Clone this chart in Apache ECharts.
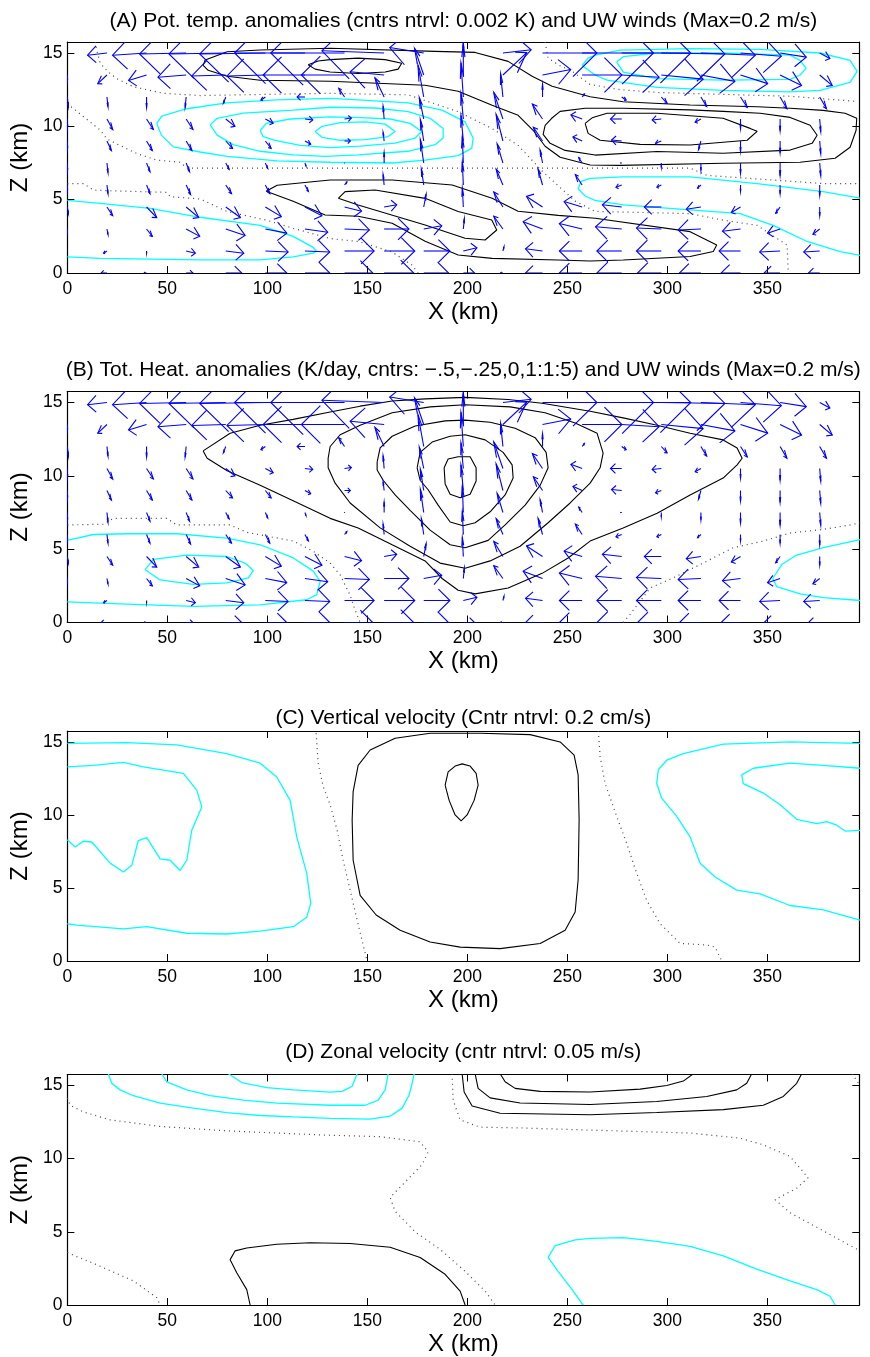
<!DOCTYPE html>
<html>
<head>
<meta charset="utf-8">
<script src="https://cdn.jsdelivr.net/npm/echarts@6/dist/echarts.min.js"></script>
<style>
html, body { margin: 0; padding: 0; background: #fff; }
#main { width: 870px; height: 1357px; }
</style>
</head>
<body>
<div id="main"></div>
<script>
// ---- wind field (same UW winds in panels A and B) ----
var windX = [0, 19.8, 39.6, 59.4, 79.2, 99, 118.8, 138.6, 158.4, 178.2, 198, 217.8, 237.6, 257.4, 277.2, 297, 316.8, 336.6, 356.4, 376.2]; // km
var windZ = [0, 1.5, 3, 4.5, 6, 7.5, 9, 10.5, 12, 13.5, 15]; // km
// u in cm/s, one row per level
var windU = [
    [0, -1.7, -0.7, 2, 4.7, 6.3, 7.3, 8.3, 8.7, 7.3, 3.3, -0.7, -5, -6.7, -7.3, -7, -6.3, -5.7, -4.7, -3.3],
    [0, -1, 0, 2.7, 5.3, 6.7, 7.3, 8.7, 9, 7.7, 4, 0.3, -5, -6.7, -7.3, -7.3, -6.7, -6.3, -6, -4.7],
    [0, 0.3, 1.7, 4, 5.7, 6.3, 6.7, 7.3, 7.3, 5.3, 0.3, -2.7, -5.7, -6.7, -7.7, -7.3, -6.7, -5.3, -3.7, -2],
    [0.3, 1.7, 3, 3.7, 4.3, 4.7, 5, 5, 3.7, 0.7, -0.3, -2.7, -4.7, -5.3, -5.7, -5, -4.3, -2.7, -1.3, 0],
    [0, 0.3, 1, 1.3, 1.7, 1.3, 1, 0.7, -0.3, -0.7, -0.3, -2, -1.3, -2, -1.7, -1.3, -1, 0, 0, 0],
    [0, 0.3, 1, 1, 1, 0.7, 0.3, 0, 0, -1, -0.3, -1.7, -0.7, -1, -0.3, 0, 0, 0, 0, 0.3],
    [0, 1.3, 1.7, 1.7, 2, 1.7, 1.7, 1.7, -0.3, -1, -0.7, -2, -2.7, -2.7, -3, -1.7, -0.7, 0, 0, 0.3],
    [0, 1.7, 2, 2, 2.7, 2.3, 2.3, 2, -0.3, -1.3, -0.7, -2.7, -3, -3.3, -3.3, -2.7, -1.7, 0, 0, 0.3],
    [0.3, 0.3, 0, -0.3, -0.7, -1.3, -2.3, -1.7, -2.7, -1.7, -0.7, -0.7, 0, 0.7, 1.3, 1.7, 1.7, 2, 2, 2],
    [0, -2.7, -5.3, -8.3, -10, -11.3, -12.3, -12.7, -10, -2.7, 0, 7, 8.3, 11.7, 11, 12.3, 10, 8, 6.3, 3.7],
    [-1.7, -5.7, -10, -13.7, -16.7, -19.3, -20.7, -21.7, -18.3, -10, 0, 8.3, 16, 21, 20.3, 18.7, 16, 12, 7.7, 3]
];
// w in mm/s
var windW = [
    [0, 0, 0, 0, 0, 0, 0, 0, 0, 0, 0, 0, 0, 0, 0, 0, 0, 0, 0, 0],
    [0, -0.7, -0.7, -0.7, -0.7, -0.3, -0.3, 0, 0, 0, 1, 1.3, 0.7, 0, 0, 0, 0, 0, -0.3, -0.3],
    [-1, -1.7, -2.3, -2.3, -2, -1.3, -1, -0.3, 0, 1, 3.3, 4, 2.3, 1.7, 0.7, 0.3, -0.3, -0.7, -1.3, -1.7],
    [-2, -2.7, -3.3, -3.3, -3.3, -3, -2.7, -1.3, 0.7, 4, 6, 4.7, 3.3, 1.7, 0.7, 0, -0.7, -1.7, -2, -2.7],
    [-2, -2.7, -2.7, -3, -2.7, -2.7, -2, 1, 3.3, 5, 7.3, 5, 5, 3.3, -0.7, -0.7, -1, -2, -2.7, -3.3],
    [-2.7, -3, -2.7, -2.7, -2, -1.7, -1, 0, 3.3, 7.3, 8.3, 6, 4, 1.7, 0, -1.3, -2.3, -3.3, -4, -4],
    [-2.7, -3, -3, -3, -2.3, -2.3, -1, 0, 2.7, 6.7, 8, 8.3, 4.3, 1.3, 0.3, -0.7, -2.7, -3.3, -3.7, -4],
    [-3, -3.3, -3.3, -3.3, -2.3, -1.3, -0.3, 0.3, 4, 6.7, 8, 8.3, 4.7, 1.3, 0, -0.3, -1, -3, -3.7, -4],
    [-3, -3, -3.3, -3.3, -2, -1, 0, 2.7, 6, 10, 10.7, 7.3, 4, 1, -1, -2, -3, -3.3, -3.7, -3.7],
    [-2, -2.7, -1.7, -0.7, -0.3, -0.3, 0, 0, 1, 8.3, 10, 7, 1.7, 0, -0.7, -1.3, -2, -2.7, -3.3, -3.3],
    [-0.7, -0.7, -0.7, -0.3, -0.3, -0.3, 0, 0, 0.7, 1.7, 2.7, 1, 0, 0, 0, -0.3, -0.7, -1, -1.3, -1.7]
];

// ---- (A) potential temperature anomaly contours [x km, z km] ----
var aCyanL1 = [[44.7,10.2],[47.2,10.7],[59.7,11.2],[79.7,11.6],[104.7,11.8],[131.4,11.9],[145.4,11.8],[170.4,11.6],[187.4,11.1],[198.9,10.3],[202.9,9.2],[202.2,8.5],[195.4,8.0],[178.9,7.7],[162.4,7.5],[131.4,7.55],[104.9,7.65],[79.9,7.95],[66.4,8.25],[53,8.6],[47,9.4],[44.7,10.2]];
var aCyanL2 = [[71.4,10.1],[74.9,10.55],[87.9,10.9],[112.9,11.1],[131.4,11.3],[153.9,11.25],[170.4,11.0],[181.4,10.55],[187.9,9.85],[187.9,9.2],[183.9,8.75],[170.4,8.3],[145.4,8.05],[128.9,7.95],[112.9,8.05],[96.4,8.3],[82.9,8.75],[74.9,9.4],[71.4,10.1]];
var aCyanL3 = [[96.4,9.7],[99.4,10.2],[111.4,10.5],[131.4,10.65],[146.4,10.6],[161.4,10.5],[171.4,10.2],[177.2,9.65],[173.9,9.2],[163.9,8.85],[146.4,8.65],[131.4,8.55],[116.4,8.7],[103.9,9.05],[97.9,9.3],[96.4,9.7]];
var aCyanL4 = [[123.9,9.65],[127.4,10.0],[136.4,10.25],[148.9,10.3],[158.9,10.15],[163.9,9.65],[160.4,9.3],[148.9,9.1],[136.4,9.05],[127.4,9.25],[123.9,9.65]];
var aCyanTR1 = [[257.4,14.15],[260.4,14.65],[263.9,14.85],[276.4,15.2],[311.4,15.3],[346.4,15.25],[376.4,15.0],[391.4,14.5],[394.9,13.75],[391.4,13.0],[376.4,12.45],[361.4,12.35],[327.9,12.45],[294.9,12.65],[269.9,13.15],[263.9,13.5],[257.4,14.15]];
var aCyanTR2 = [[274.7,14.4],[278,14.75],[294.7,15.0],[328,15.0],[361.4,14.85],[366.4,14.5],[369.4,13.95],[366.4,13.5],[361.4,13.2],[328,13.15],[294.7,13.25],[278,13.7],[274.7,14.4]];
var aCyanBR = [[396.4,5.1],[377.9,5.55],[344.9,6.1],[311.4,6.55],[277.9,6.55],[261.4,6.45],[256.9,6.25],[255.4,5.75],[258.9,5.25],[263.9,4.95],[277.9,4.65],[311.4,4.3],[336.4,4.05],[352.9,3.25],[369.9,2.15],[386.4,1.45],[396.4,1.2]];
var aCyanBL = [[0,4.95],[16.4,4.75],[41.4,4.4],[66.4,3.8],[96.4,3.25],[112.9,2.5],[122.9,1.75],[124.4,1.5],[122.9,1.35],[112.9,1.1],[96.4,0.9],[66.4,0.9],[16.4,1.0],[0,1.1]];
var aBlackU1 = [[67.9,14.16],[70.4,13.82],[79.9,13.41],[96.4,13.14],[131.4,13.07],[178.9,12.8],[195.4,12.39],[212.4,11.43],[225.4,10.75],[232.9,9.73],[238.9,8.64],[246.4,7.89],[261.4,7.36],[276.4,7.34],[327.9,7.48],[366.4,7.55],[383.9,7.82],[391.4,8.57],[394.4,9.73],[394.7,10.55],[388.9,10.89],[377.9,11.09],[361.4,11.23],[344.9,11.34],[311.4,11.45],[277.9,11.68],[261.4,12.02],[242.4,12.73],[232.4,13.41],[220.4,14.43],[203.9,15.04],[183.9,15.11],[131.4,15.32],[96.4,15.2],[79.9,15.09],[68.9,14.52],[67.9,14.16]];
var aBlackU2 = [[120.4,14.2],[125.4,14.45],[131.4,14.55],[145.4,14.65],[158.9,14.55],[167.2,14.3],[165.4,13.9],[158.9,13.7],[145.4,13.6],[131.4,13.7],[123.9,13.9],[120.4,14.2]];
var aBlackR1 = [[238.9,10.07],[242.2,10.55],[246.4,11.02],[258.9,11.23],[277.9,11.23],[311.4,11.12],[327.9,11.02],[346.4,10.89],[361.4,10.61],[371.4,10.07],[374.9,9.39],[372.4,8.84],[361.4,8.38],[327.9,8.16],[294.9,8.28],[263.9,8.04],[248.9,8.36],[241.4,8.84],[237.9,9.45],[238.9,10.07]];
var aBlackR2 = [[258.9,10.2],[262.4,10.58],[269.9,10.89],[294.9,10.89],[327.9,10.55],[341.4,9.86],[344.9,9.66],[339.9,9.05],[311.4,8.73],[286.4,8.77],[266.4,9.05],[260.4,9.52],[258.9,10.2]];
var aBlackLow1 = [[99.4,5.57],[104.9,5.98],[131.4,6.34],[162.4,6.34],[192.4,6.0],[212.4,5.09],[225.4,4.21],[245.4,3.93],[263.9,3.73],[311.4,2.82],[324.7,1.91],[323,1.46],[311.4,1.12],[278,0.89],[261.4,0.82],[245.4,0.89],[212.4,1.0],[195.4,1.23],[178.9,2.16],[162.4,3.39],[145.4,3.87],[128.9,3.95],[112.9,4.89],[99.4,5.57]];
var aBlackLow2 = [[135.5,5.09],[138.9,5.55],[153.9,5.66],[178.9,5.09],[195.4,4.19],[212.2,3.61],[214.7,2.93],[208.9,2.25],[198.9,2.37],[178.9,3.27],[145.4,4.64],[135.5,5.09]];
var aDot1 = [[13.9,15.75],[14.7,15.2],[16.4,14.3],[20.5,13.7],[24.7,13.25],[33,12.7],[48,12.25],[66.4,12.1],[130,12.25],[170.4,12.15],[195.4,11.0],[212.4,9.85],[225.4,8.7],[237.4,6.95],[253.9,4.9],[263.9,4.2],[311.4,4.05],[327.9,3.6],[344.9,3.25],[359.9,1.9],[360.5,0]];
var aDot2 = [[0,11.55],[2.2,11.3],[16.4,9.75],[19.7,9.15],[24.7,8.8],[34.7,8.15],[44.7,7.7],[56.4,7.55],[59.9,7.15],[131.4,7.15],[178.9,7.15],[238.9,7.15],[261.4,7.15],[311.4,7.15],[319.9,6.65],[377.9,6.1],[396.4,6.1]];
var aDot3 = [[0,6.1],[8,6.1],[13,5.65],[23,5.6],[49.7,5.5],[51.4,5.2],[66.4,5.05],[79.7,4.2],[99.7,3.6],[113,3.05],[131.4,2.35],[145.4,2.15],[162.2,1.45],[172.2,0.55],[175.4,0]];
var aDot4 = [[238.9,15.75],[240.4,14.65],[245.4,14.2],[252.4,13.75],[261.4,12.85],[276.4,12.5],[296.4,12.3],[361.4,12.05],[394.9,11.7]];

// ---- (B) total heating anomaly contours ----
var bBlack1 = [[67.9,11.7],[81.4,12.9],[96.4,13.45],[112.9,13.85],[131.4,14.35],[146.4,14.75],[162.4,15.1],[178.9,15.25],[198.9,15.35],[220.4,15.2],[237.4,14.95],[261.4,14.4],[277.9,13.95],[294.9,13.45],[311.4,12.9],[327.9,12.45],[334.9,11.9],[337.4,11.2],[334.9,10.75],[327.9,9.85],[311.4,8.7],[294.9,7.45],[277.9,6.45],[261.4,5.55],[250.4,4.4],[237.4,3.35],[220.4,2.35],[203.9,1.95],[195.4,2.2],[187.4,3.0],[178.9,4.2],[162.4,5.3],[145.4,6.45],[131.4,7.1],[112.9,8.3],[96.4,9.35],[79.9,10.35],[69.9,11.2],[67.9,11.7]];
var bBlack2 = [[130.4,11.2],[131.4,12.0],[136.4,12.8],[146.4,13.45],[162.4,14.3],[181.4,14.7],[198.9,14.85],[221.4,14.7],[238.9,14.3],[253.9,13.6],[264.9,12.9],[267.9,11.55],[266.4,10.55],[261.4,9.5],[251.4,8.15],[240.4,6.8],[226.4,5.2],[211.4,4.2],[198.9,3.7],[186.4,4.05],[171.4,5.2],[156.4,6.45],[141.4,8.15],[133.9,9.5],[130.4,10.55],[130.4,11.2]];
var bBlack3 = [[154.9,10.95],[156.4,11.9],[162.4,12.7],[173.9,13.4],[188.9,13.75],[198.9,13.8],[211.4,13.65],[223.9,13.25],[233.9,12.6],[239.4,11.6],[240.4,10.55],[236.4,9.35],[228.9,8.0],[218.9,6.65],[210.4,5.6],[198.9,5.1],[191.4,5.3],[181.4,6.3],[171.4,7.65],[163.9,8.7],[157.9,9.7],[154.9,10.4],[154.9,10.95]];
var bBlack4 = [[174.9,10.55],[176.4,11.6],[182.4,12.3],[191.4,12.7],[198.9,12.8],[208.9,12.45],[217.9,11.6],[222.4,10.75],[222.9,9.85],[218.9,8.7],[211.4,7.55],[203.9,6.8],[197.9,6.6],[191.4,6.85],[185.4,8.0],[180.4,9.05],[176.4,9.7],[174.9,10.55]];
var bBlack5 = [[188.4,10.55],[190.4,11.15],[195.4,11.3],[201.4,11.3],[204.4,10.55],[204.4,9.65],[201.4,8.75],[196.4,8.5],[191.4,8.75],[188.9,9.45],[188.4,10.55]];
var bCyan1 = [[0,5.6],[13,6.0],[29.7,6.05],[54.7,6.05],[79.7,5.75],[96.4,5.3],[113,4.4],[123,3.5],[126.4,2.8],[124.7,1.9],[119.7,1.55],[96.4,1.2],[63,1.1],[29.7,1.25],[0,1.4]];
var bCyan2 = [[38.9,3.6],[43,4.3],[59.7,4.6],[79.7,4.5],[88.9,4.05],[93,3.55],[90.5,3.05],[79.7,2.7],[63,2.6],[46.4,2.9],[38.9,3.6]];
var bCyan3 = [[396.4,5.65],[378,5.1],[364.7,4.6],[357.2,3.95],[352.7,3.0],[354.7,2.45],[366.4,1.95],[378,1.7],[396.4,1.5]];
var bDot1 = [[0,6.65],[18,6.7],[23,7.1],[49.7,7.1],[54.7,6.65],[81.4,6.65],[89.7,6.15],[113,5.55],[123,4.85],[131.4,4.05],[136.4,3.25],[141.4,1.85],[143.9,0.85],[146.4,0]];
var bDot2 = [[277.9,0],[281.4,0.55],[291.4,2.35],[303,3.05],[316.4,3.95],[333,5.1],[348,5.55],[361.4,6.1],[378,6.35],[391.4,6.65],[396.4,6.8]];

// ---- (C) vertical velocity contours ----
var cCyan1 = [[0,14.9],[29.7,14.95],[54.7,14.8],[79.7,14.2],[96.4,13.55],[104.7,12.6],[111.4,11.0],[114.7,8.5],[119.7,6.0],[121.7,3.95],[119.7,3.0],[113,2.35],[96.4,2.05],[79.7,1.85],[59.7,1.9],[39.7,2.35],[28,2.2],[4.7,2.45],[0,2.55]];
var cCyan2 = [[0,13.3],[13,13.4],[28,13.6],[38,13.3],[58,12.85],[64.7,11.7],[67.2,10.55],[62.2,8.95],[59.7,6.9],[56.4,6.2],[51.4,6.9],[46.4,7.0],[39.7,8.45],[35.5,8.25],[32.2,6.55],[28,6.1],[21.4,6.7],[12.2,8.15],[8,8.2],[3.9,7.8],[0,8.3]];
var cCyan3 = [[396.4,14.9],[361.4,15.0],[328,14.85],[308,14.2],[299.7,13.75],[295.5,13.1],[294.7,12.15],[297.2,11.15],[304.7,9.9],[311.4,8.5],[316.4,6.7],[323.9,5.75],[334.7,4.85],[346.4,4.6],[361.4,3.8],[378,3.5],[396.4,2.8]];
var cCyan4 = [[396.4,13.2],[378,13.4],[361.4,13.55],[343,13.2],[337.2,12.75],[338,12.15],[348,11.5],[356.4,10.7],[364.7,9.7],[374.7,9.4],[379.7,9.55],[384.7,9.3],[388.9,8.9],[396.4,8.95]];
var cBlack1 = [[142.9,11.6],[145.4,13.4],[151.4,14.45],[163.9,15.25],[181.4,15.6],[206.4,15.6],[231.4,15.5],[246.4,15.0],[253.4,14.1],[255.4,12.75],[255.9,9.65],[255.4,5.55],[253.9,3.35],[248.9,2.1],[236.4,1.2],[216.4,0.85],[196.4,0.95],[181.4,1.3],[166.4,2.1],[154.4,3.15],[146.4,4.5],[142.9,6.9],[142.4,9.65],[142.9,11.6]];
var cBlack2 = [[188.9,12.05],[190.4,12.95],[193.9,13.35],[197.4,13.5],[201.4,13.35],[204.4,12.85],[205.4,12.05],[203.4,11.0],[199.9,10.0],[196.9,9.6],[193.9,10.0],[190.9,11.0],[188.9,12.05]];
var cDot1 = [[124.4,15.6],[125.4,13.55],[127.9,11.95],[131.4,10.7],[134.9,8.95],[137.9,6.9],[141.4,4.85],[144.9,2.8],[147.9,1.1],[149.9,0]];
var cDot2 = [[265.5,15.75],[266.4,14.0],[268.9,12.15],[274.7,9.9],[279.7,8.05],[284.7,6.0],[289.7,4.15],[296.4,2.55],[306.4,1.2],[319.7,1.1],[323.9,0.95],[327.2,0]];

// ---- (D) zonal velocity contours ----
var dCyan1 = [[20.5,15.8],[22.2,15.15],[26.4,14.7],[33,14.3],[46.4,13.8],[63,13.45],[79.7,13.15],[96.4,12.95],[113,12.85],[131.4,12.75],[151.4,12.7],[161.4,12.9],[167.4,13.45],[170.9,14.35],[172.4,15.15],[173.4,15.8]];
var dCyan2 = [[47.2,15.8],[49.7,15.25],[59.7,14.7],[71.4,14.3],[88,14.0],[104.7,13.8],[131.4,13.65],[148.9,13.65],[155.4,14.0],[158.9,14.7],[160.4,15.8]];
var dCyan3 = [[80.5,15.8],[87.2,15.2],[99.7,14.85],[113,14.7],[131.4,14.55],[137.4,14.6],[142.4,14.95],[144.9,15.8]];
var dCyan4 = [[257.9,0],[252.4,1.05],[245.4,2.3],[240.4,3.25],[243.9,4.05],[253.9,4.45],[261.4,4.55],[278,4.6],[294.7,4.35],[311.4,4.0],[328,3.35],[344.7,2.45],[361.4,1.65],[374.7,1.05],[381.4,0.6],[383.9,0]];
var dBlack1 = [[216.4,15.8],[218.9,15.25],[223.9,14.8],[236.4,14.6],[261.4,14.55],[286.4,14.75],[299.7,15.0],[308,15.3],[313,15.8]];
var dBlack2 = [[203.9,15.8],[205.4,14.8],[211.4,14.15],[226.4,13.8],[261.4,13.7],[294.7,13.9],[319.7,14.25],[334.7,14.7],[339.7,15.15],[342.2,15.8]];
var dBlack3 = [[197.4,15.8],[198.4,14.55],[202.4,13.6],[216.4,13.1],[261.4,13.0],[294.7,13.15],[328,13.35],[348,13.65],[358,14.25],[364.7,15.15],[367.2,15.8]];
var dBlack4 = [[91.4,0],[89.7,1.05],[84.7,2.2],[81.4,3.1],[83.9,3.7],[89.7,3.9],[104.7,4.15],[121.4,4.25],[141.4,4.2],[161.4,3.95],[176.4,3.25],[188.9,2.1],[196.4,0.95],[198.9,0]];
var dDot1 = [[0,14.15],[1.4,13.65],[7.9,13.2],[21.4,12.65],[46.4,12.2],[79.7,11.9],[113,11.7],[131.4,11.6],[156.4,11.5],[176.4,11.15],[180.4,10.45],[177.4,9.6],[168.9,8.4],[161.4,7.35],[163.9,6.4],[173.9,5.0],[186.4,3.8],[198.9,2.3],[208.9,0.95],[213.9,0]];
var dDot2 = [[192.4,15.8],[192.9,14.0],[196.4,12.65],[206.4,12.15],[226.4,12.1],[261.4,11.95],[311.4,11.75],[336.4,11.4],[347.9,10.95],[361.4,10.15],[370.4,8.7],[364.9,8.0],[353.9,7.2],[361.4,6.3],[374.9,5.3],[392.9,3.95],[396.4,3.7]];
var dDot3 = [[0,3.6],[3.9,3.35],[13,2.85],[23,2.25],[33,1.65],[44.7,0.5],[46.4,0]];
var dDot4 = [[392.4,15.8],[395.9,15.1]];

var titles = [
    '(A) Pot. temp. anomalies (cntrs ntrvl: 0.002 K) and UW winds (Max=0.2 m/s)',
    '(B) Tot. Heat. anomalies (K/day, cntrs: \u2212.5,\u2212.25,0,1:1:5) and UW winds (Max=0.2 m/s)',
    '(C) Vertical velocity (Cntr ntrvl: 0.2 cm/s)',
    '(D) Zonal velocity (cntr ntrvl: 0.05 m/s)'
];

var panels = [
    { top: 42, height: 231, titleY: 21, winds: true,
      lines: [[aCyanL1,'cyan'],[aCyanL2,'cyan'],[aCyanL3,'cyan'],[aCyanL4,'cyan'],[aCyanTR1,'cyan'],[aCyanTR2,'cyan'],[aCyanBR,'cyan'],[aCyanBL,'cyan'],
              [aBlackU1,'black'],[aBlackU2,'black'],[aBlackR1,'black'],[aBlackR2,'black'],[aBlackLow1,'black'],[aBlackLow2,'black'],
              [aDot1,'dot'],[aDot2,'dot'],[aDot3,'dot'],[aDot4,'dot']] },
    { top: 391.5, height: 231, titleY: 370.5, winds: true,
      lines: [[bCyan1,'cyan'],[bCyan2,'cyan'],[bCyan3,'cyan'],
              [bBlack1,'black'],[bBlack2,'black'],[bBlack3,'black'],[bBlack4,'black'],[bBlack5,'black'],
              [bDot1,'dot'],[bDot2,'dot']] },
    { top: 731, height: 230, titleY: 718.5, winds: false,
      lines: [[cCyan1,'cyan'],[cCyan2,'cyan'],[cCyan3,'cyan'],[cCyan4,'cyan'],
              [cBlack1,'black'],[cBlack2,'black'],[cDot1,'dot'],[cDot2,'dot']] },
    { top: 1074.5, height: 231, titleY: 1052.5, winds: false,
      lines: [[dCyan1,'cyan'],[dCyan2,'cyan'],[dCyan3,'cyan'],[dCyan4,'cyan'],
              [dBlack1,'black'],[dBlack2,'black'],[dBlack3,'black'],[dBlack4,'black'],
              [dDot1,'dot'],[dDot2,'dot'],[dDot3,'dot'],[dDot4,'dot']] }
];

var FONT = '"Liberation Sans", Arial, Helvetica, sans-serif';
var lineStyles = {
    cyan: { color: '#00ffff', width: 1.3, type: 'solid' },
    black: { color: '#000000', width: 1.1, type: 'solid' },
    dot: { color: '#444444', width: 1.2, type: [1, 4] }
};

// quiver arrow look
var U_PX = 3.4;    // px per cm/s
var W_PX = 3.2;    // px per mm/s
var HEAD_A = 0.44;
var HEAD_B = 0.33;
var ASPECT = 3.0;

var windData = [];
windZ.forEach(function (z, r) {
    windX.forEach(function (x, i) {
        windData.push([x, z, windU[r][i], windW[r][i]]);
    });
});

function renderArrow(params, api) {
    var p = api.coord([api.value(0), api.value(1)]);
    var dx = api.value(2) * U_PX;
    var dy = -api.value(3) * W_PX;
    var style = { stroke: '#0000ff', lineWidth: 1.1, fill: null };
    if (Math.abs(dx) + Math.abs(dy) < 0.6) {
        return { type: 'circle', shape: { cx: p[0], cy: p[1], r: 0.6 }, style: { fill: '#0000ff' } };
    }
    var tip = [p[0] + dx, p[1] + dy];
    var ux = dx, wy = -dy / ASPECT;
    var a1 = [tip[0] - HEAD_A * (ux + HEAD_B * wy), tip[1] + HEAD_A * (wy - HEAD_B * ux) * ASPECT];
    var a2 = [tip[0] - HEAD_A * (ux - HEAD_B * wy), tip[1] + HEAD_A * (wy + HEAD_B * ux) * ASPECT];
    return {
        type: 'group',
        children: [
            { type: 'polyline', shape: { points: [p, tip] }, style: style },
            { type: 'polyline', shape: { points: [a1, tip, a2] }, style: style }
        ]
    };
}

var grids = [], xAxes = [], yAxes = [], series = [], graphics = [];
var LEFT = 67.3, WIDTH = 792;

panels.forEach(function (pn, k) {
    grids.push({ left: LEFT, width: WIDTH, top: pn.top, height: pn.height, containLabel: false });
    var lineCommon = { onZero: false, lineStyle: { color: '#000', width: 1.2 } };
    var tickCommon = { inside: true, length: 7, lineStyle: { color: '#000', width: 1 } };
    xAxes.push({
        gridIndex: k, type: 'value', min: 0, max: 396, interval: 50,
        axisLine: lineCommon, axisTick: tickCommon, splitLine: { show: false },
        axisLabel: { color: '#000', fontSize: 17.5, fontFamily: FONT, margin: 7, showMaxLabel: false },
        name: 'X (km)', nameLocation: 'middle', nameGap: 27,
        nameTextStyle: { color: '#000', fontSize: 24, fontFamily: FONT }
    });
    xAxes.push({
        gridIndex: k, type: 'value', position: 'top', min: 0, max: 396, interval: 50,
        axisLine: lineCommon, axisTick: tickCommon, splitLine: { show: false },
        axisLabel: { show: false }
    });
    yAxes.push({
        gridIndex: k, type: 'value', min: 0, max: 15.75, interval: 5,
        axisLine: lineCommon, axisTick: tickCommon, splitLine: { show: false },
        axisLabel: { color: '#000', fontSize: 17.5, fontFamily: FONT, margin: 5, showMaxLabel: false },
        name: 'Z (km)', nameLocation: 'middle', nameGap: 30, nameRotate: 90,
        nameTextStyle: { color: '#000', fontSize: 24, fontFamily: FONT }
    });
    yAxes.push({
        gridIndex: k, type: 'value', position: 'right', min: 0, max: 15.75, interval: 5,
        axisLine: lineCommon, axisTick: tickCommon, splitLine: { show: false },
        axisLabel: { show: false }
    });

    pn.lines.forEach(function (ln) {
        series.push({
            type: 'line', xAxisIndex: 2 * k, yAxisIndex: 2 * k,
            data: ln[0], showSymbol: false, symbol: 'none', silent: true,
            clip: true, lineStyle: lineStyles[ln[1]], z: 2
        });
    });

    if (pn.winds) {
        series.push({
            type: 'custom', xAxisIndex: 2 * k, yAxisIndex: 2 * k,
            data: windData, renderItem: renderArrow, clip: true, silent: true,
            encode: { x: 0, y: 1 }, z: 3
        });
    }

    graphics.push({
        type: 'text', x: LEFT + WIDTH / 2, y: pn.titleY,
        style: { text: titles[k], font: '21px ' + FONT, fill: '#000',
                 align: 'center', verticalAlign: 'middle', textAlign: 'center', textVerticalAlign: 'middle' }
    });
});

var myChart = echarts.init(document.getElementById('main'));
myChart.setOption({
    backgroundColor: '#ffffff',
    animation: false,
    grid: grids,
    xAxis: xAxes,
    yAxis: yAxes,
    series: series,
    graphic: graphics
});
</script>
</body>
</html>
